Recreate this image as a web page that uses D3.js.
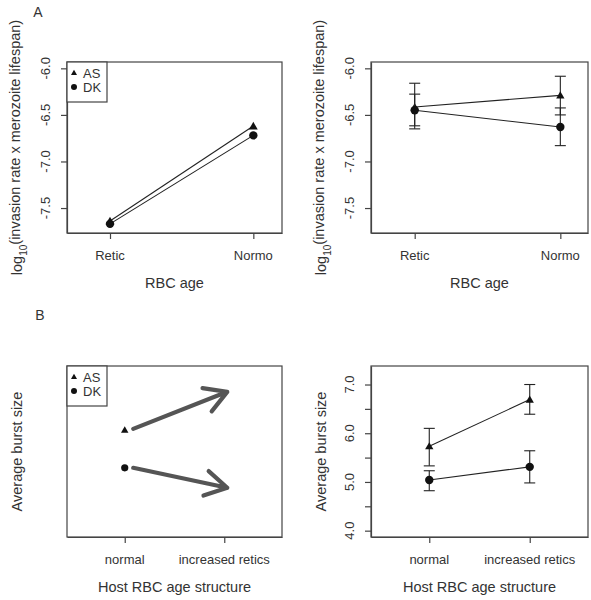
<!DOCTYPE html>
<html><head><meta charset="utf-8">
<script src="https://cdn.jsdelivr.net/npm/d3@7"></script>
<style>
html,body{margin:0;padding:0;background:#fff;}
svg{display:block;font-family:"Liberation Sans",Arial,Helvetica,sans-serif;}
</style></head>
<body>
<svg id="chart" width="591" height="600"></svg>
<script>
// ---------- data ----------
const ageCategories = ["Retic", "Normo"];
const structureCategories = ["normal", "increased retics"];
const seriesNames = ["AS", "DK"];
const invasionTicks = [-6.0, -6.5, -7.0, -7.5];
const invasionTickLabels = ["-6.0", "-6.5", "-7.0", "-7.5"];
const burstTicks = [4.0, 4.5, 5.0, 5.5, 6.0, 6.5, 7.0];
const burstTickLabels = ["4.0", "", "5.0", "", "6.0", "", "7.0"];

// Panel A left (model predictions)
const modelAS = [-7.64, -6.62];
const modelDK = [-7.67, -6.72];
// Panel A right (estimates with error bars)
const invAS = [-6.415, -6.29];
const invASlow = [-6.65, -6.50];
const invAShigh = [-6.16, -6.085];
const invDK = [-6.45, -6.63];
const invDKlow = [-6.617, -6.83];
const invDKhigh = [-6.277, -6.425];
// Panel B left (schematic prediction)
const schemPointAS = 6.07;
const schemPointDK = 5.29;
const schemArrowAS = [6.09, 6.85];
const schemArrowDK = [5.29, 4.88];
const schemArrowX = [1.085, 2.03];
// Panel B right (burst size with error bars)
const burstAS = [5.735, 6.69];
const burstASlow = [5.33, 6.39];
const burstAShigh = [6.10, 7.00];
const burstDK = [5.04, 5.31];
const burstDKlow = [4.82, 4.98];
const burstDKhigh = [5.23, 5.64];

// ---------- drawing ----------
const svg = d3.select("#chart");
const txt = "#333", boxCol = "#444";

function panel(opt) {
  const x = d3.scaleLinear().domain(opt.xdom).range([opt.x0, opt.x1]);
  const y = d3.scaleLinear().domain(opt.ydom).range([opt.y1, opt.y0]);
  const g = svg.append("g");
  g.append("rect").attr("x", opt.x0).attr("y", opt.y0)
    .attr("width", opt.x1 - opt.x0).attr("height", opt.y1 - opt.y0)
    .attr("fill", "none").attr("stroke", boxCol).attr("stroke-width", 1.2);
  // x axis
  const xa = d3.axisBottom(x).tickValues([1, 2]).tickFormat("").tickSize(6).tickSizeOuter(0);
  const gx = g.append("g").attr("transform", `translate(0,${opt.y1})`).call(xa);
  gx.select(".domain").attr("stroke", boxCol).attr("stroke-width", 1.2);
  gx.selectAll(".tick line").attr("stroke", boxCol).attr("stroke-width", 1.2);
  opt.cats.forEach((c, i) => {
    g.append("text").attr("x", x(i + 1)).attr("y", opt.y1 + 27)
      .attr("text-anchor", "middle").attr("font-size", 13).attr("fill", txt).text(c);
  });
  g.append("text").attr("x", (opt.x0 + opt.x1) / 2).attr("y", opt.y1 + 55)
    .attr("text-anchor", "middle").attr("font-size", 14.5).attr("fill", txt).text(opt.xtitle);
  // y axis
  if (opt.yticks) {
    const ya = d3.axisLeft(y).tickValues(opt.yticks).tickFormat("").tickSize(6).tickSizeOuter(0);
    const gy = g.append("g").attr("transform", `translate(${opt.x0},0)`).call(ya);
    gy.select(".domain").attr("stroke", boxCol).attr("stroke-width", 1.2);
    gy.selectAll(".tick line").attr("stroke", boxCol).attr("stroke-width", 1.2);
    opt.yticks.forEach((v, i) => {
      const lab = opt.ylabels[i];
      if (!lab) return;
      g.append("text").attr("transform", `translate(${opt.x0 - 22},${y(v)}) rotate(-90)`)
        .attr("dy", "0.36em").attr("text-anchor", "middle").attr("font-size", 13)
        .attr("fill", txt).text(lab);
    });
  }
  const yt = g.append("text").attr("transform", `translate(${opt.x0 - 50},${(opt.y0 + opt.y1) / 2}) rotate(-90)`)
    .attr("dy", "0.36em").attr("text-anchor", "middle").attr("font-size", 14.5).attr("fill", txt);
  opt.ytitle(yt);
  return {g, x, y};
}

const tri = d3.symbol().type(d3.symbolTriangle);
function triangle(g, cx, cy, size) {
  g.append("path").attr("d", tri.size(size)()).attr("transform", `translate(${cx},${cy + 0.8})`)
    .attr("fill", "#111");
}
function dot(g, cx, cy, r) {
  g.append("circle").attr("cx", cx).attr("cy", cy).attr("r", r).attr("fill", "#111");
}
function legend(g, x0, y0) {
  g.append("rect").attr("x", x0).attr("y", y0).attr("width", 40).attr("height", 40)
    .attr("fill", "#fff").attr("stroke", boxCol).attr("stroke-width", 1.2);
  triangle(g, x0 + 7, y0 + 10.5, 16);
  dot(g, x0 + 7, y0 + 25, 3);
  seriesNames.forEach((s, i) => {
    g.append("text").attr("x", x0 + 16).attr("y", y0 + 11 + 14.5 * i).attr("dy", "0.36em")
      .attr("font-size", 13).attr("fill", txt).text(s);
  });
}
const invTitle = t => {
  t.append("tspan").text("log");
  t.append("tspan").attr("font-size", 10).attr("dy", "0.45em").text("10");
  t.append("tspan").attr("dy", "-0.45em").text("(invasion rate x merozoite lifespan)");
};
const burstTitle = t => t.text("Average burst size");

// Panel A left
const pA1 = panel({x0: 67, x1: 282, y0: 62, y1: 233, xdom: [0.7, 2.2], ydom: [-7.768, -5.932],
  cats: ageCategories, xtitle: "RBC age", yticks: invasionTicks, ylabels: invasionTickLabels, ytitle: invTitle});
[modelAS, modelDK].forEach((s, k) => {
  pA1.g.append("line").attr("x1", pA1.x(1)).attr("y1", pA1.y(s[0]))
    .attr("x2", pA1.x(2)).attr("y2", pA1.y(s[1])).attr("stroke", "#222").attr("stroke-width", 1.1);
});
modelAS.forEach((v, i) => triangle(pA1.g, pA1.x(i + 1), pA1.y(v), 34));
modelDK.forEach((v, i) => dot(pA1.g, pA1.x(i + 1), pA1.y(v), 4.2));
legend(pA1.g, 67, 62);

// Panel A right
const pA2 = panel({x0: 371, x1: 588, y0: 62, y1: 233, xdom: [0.7, 2.19], ydom: [-7.768, -5.932],
  cats: ageCategories, xtitle: "RBC age", yticks: invasionTicks, ylabels: invasionTickLabels, ytitle: invTitle});
function errorSeries(p, vals, lo, hi, marker) {
  vals.forEach((v, i) => {
    const cx = p.x(i + 1);
    p.g.append("line").attr("x1", cx).attr("x2", cx).attr("y1", p.y(lo[i])).attr("y2", p.y(hi[i]))
      .attr("stroke", "#222").attr("stroke-width", 1.1);
    [lo[i], hi[i]].forEach(e => p.g.append("line").attr("x1", cx - 5.5).attr("x2", cx + 5.5)
      .attr("y1", p.y(e)).attr("y2", p.y(e)).attr("stroke", "#222").attr("stroke-width", 1.1));
  });
  p.g.append("line").attr("x1", p.x(1)).attr("y1", p.y(vals[0])).attr("x2", p.x(2)).attr("y2", p.y(vals[1]))
    .attr("stroke", "#222").attr("stroke-width", 1.1);
  vals.forEach((v, i) => marker === "tri" ? triangle(p.g, p.x(i + 1), p.y(v), 30) : dot(p.g, p.x(i + 1), p.y(v), 4.2));
}
errorSeries(pA2, invAS, invASlow, invAShigh, "tri");
errorSeries(pA2, invDK, invDKlow, invDKhigh, "dot");

// Panel B left (schematic)
const pB1 = panel({x0: 67, x1: 282, y0: 366, y1: 537, xdom: [0.42, 2.58], ydom: [3.87, 7.38],
  cats: structureCategories, xtitle: "Host RBC age structure", yticks: null, ytitle: burstTitle});
function arrow(p, xs, ys) {
  const xA = p.x(xs[0]), yA = p.y(ys[0]), xB = p.x(xs[1]), yB = p.y(ys[1]);
  const ang = Math.atan2(yA - yB, xA - xB), L = 25, a = Math.PI / 6;
  const path = d3.path();
  path.moveTo(xA, yA); path.lineTo(xB, yB);
  path.moveTo(xB + L * Math.cos(ang + a), yB + L * Math.sin(ang + a)); path.lineTo(xB, yB);
  path.lineTo(xB + L * Math.cos(ang - a), yB + L * Math.sin(ang - a));
  p.g.append("path").attr("d", path.toString()).attr("fill", "none").attr("stroke", "#555")
    .attr("stroke-width", 4.2).attr("stroke-linecap", "round").attr("stroke-linejoin", "round");
}
triangle(pB1.g, pB1.x(1), pB1.y(schemPointAS), 24);
dot(pB1.g, pB1.x(1), pB1.y(schemPointDK), 3.6);
arrow(pB1, schemArrowX, schemArrowAS);
arrow(pB1, schemArrowX, schemArrowDK);
legend(pB1.g, 67, 366);

// Panel B right
const pB2 = panel({x0: 371, x1: 588, y0: 366, y1: 537, xdom: [0.42, 2.58], ydom: [3.87, 7.38],
  cats: structureCategories, xtitle: "Host RBC age structure", yticks: burstTicks, ylabels: burstTickLabels, ytitle: burstTitle});
errorSeries(pB2, burstAS, burstASlow, burstAShigh, "tri");
errorSeries(pB2, burstDK, burstDKlow, burstDKhigh, "dot");

// Panel letters
svg.append("text").attr("x", 38).attr("y", 12).attr("dy", "0.36em").attr("text-anchor", "middle")
  .attr("font-size", 14).attr("fill", txt).text("A");
svg.append("text").attr("x", 40).attr("y", 315).attr("dy", "0.36em").attr("text-anchor", "middle")
  .attr("font-size", 14).attr("fill", txt).text("B");
</script>
</body></html>
